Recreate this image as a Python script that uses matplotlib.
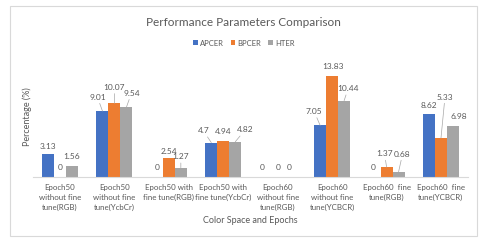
"""Grouped bar chart: APCER / BPCER / HTER per colour space and epoch setting."""
import numpy as np
import matplotlib.pyplot as plt
from matplotlib.patches import Rectangle

categories = [
    "Epoch50\nwithout fine\ntune(RGB)",
    "Epoch50\nwithout fine\ntune(YcbCr)",
    "Epoch50 with\nfine tune(RGB)",
    "Epoch50 with\nfine tune(YcbCr)",
    "Epoch60\nwithout fine\ntune(RGB)",
    "Epoch60\nwithout fine\ntune(YCBCR)",
    "Epoch60  fine\ntune(RGB)",
    "Epoch60  fine\ntune(YCBCR)",
]
series_names = ["APCER", "BPCER", "HTER"]
apcer = [3.13, 9.01, 0, 4.7, 0, 7.05, 0, 8.62]
bpcer = [0, 10.07, 2.54, 4.94, 0, 13.83, 1.37, 5.33]
hter = [1.56, 9.54, 1.27, 4.82, 0, 10.44, 0.68, 6.98]

COLORS = ["#4472C4", "#ED7D31", "#A5A5A5"]
TXT = "#595959"

# label offsets in pixels (dx, dy) from bar top centre, per series
OFFSETS = [
    [(0, 8), (-5, 14), (0, 9), (-8, 12), (-4, 9), (-6, 14), (-1, 9), (0, 8)],
    [(0, 9), (0, 16), (0, 7), (0, 9), (0, 9), (1, 9), (-2, 13), (4, 41)],
    [(0, 9), (5, 14), (0, 11), (10, 12), (0, 9), (4, 12), (4, 18), (6, 9)],
]

plt.rcParams["font.family"] = ["Lato", "DejaVu Sans"]

fig = plt.figure(figsize=(4.8, 2.44), dpi=100)
fig.patches.append(Rectangle((10 / 480, 8 / 244), 467 / 480, 230 / 244,
                             transform=fig.transFigure, fill=False,
                             edgecolor="#d9d9d9", linewidth=0.8))

ax = fig.add_axes([32.8 / 480, 67 / 244, 435.4 / 480, 117 / 244])
x = np.arange(len(categories))
width = 0.22
data = [apcer, bpcer, hter]

for k, (name, vals) in enumerate(zip(series_names, data)):
    xs = x + (k - 1) * width
    ax.bar(xs, vals, width, color=COLORS[k], label=name)
    for xi, v, (dx, dy) in zip(xs, vals, OFFSETS[k]):
        lab = f"{v:g}"
        if dy > 10:
            ax.annotate(lab, xy=(xi, v), xytext=(dx, dy),
                        textcoords="offset pixels", ha="center", va="center",
                        fontsize=6, color=TXT,
                        arrowprops=dict(arrowstyle="-", color="#a6a6a6",
                                        lw=0.5, shrinkA=0, shrinkB=0))
        else:
            ax.annotate(lab, xy=(xi, v), xytext=(dx, dy),
                        textcoords="offset pixels", ha="center", va="center",
                        fontsize=6, color=TXT)

ax.set_xlim(-0.5, len(categories) - 0.5)
ax.set_ylim(0, 16)
ax.set_yticks([])
ax.set_xticks(x)
ax.set_xticklabels(categories, fontsize=5.7, color=TXT, linespacing=1.45)
ax.tick_params(axis="x", length=0, pad=5)
for side in ["top", "right", "left"]:
    ax.spines[side].set_visible(False)
ax.spines["bottom"].set_color("#d9d9d9")
ax.spines["bottom"].set_linewidth(0.8)

ax.set_xlabel("Color Space and Epochs", fontsize=6.5, color=TXT, labelpad=4)
fig.text(27 / 480, 1 - 117 / 244, "Percentage (%)", rotation=90,
         ha="center", va="center", fontsize=6.5, color=TXT)

fig.text(243 / 480, 1 - 22 / 244, "Performance Parameters Comparison",
         ha="center", va="center", fontsize=8.5, color=TXT)
fig.legend(loc="center", bbox_to_anchor=(244 / 480, 1 - 43 / 244), ncol=3,
           frameon=False, fontsize=5.5, handlelength=0.6, handleheight=0.6,
           handletextpad=0.3, columnspacing=0.9, labelcolor=TXT)

fig.savefig("out.png", dpi=100)
